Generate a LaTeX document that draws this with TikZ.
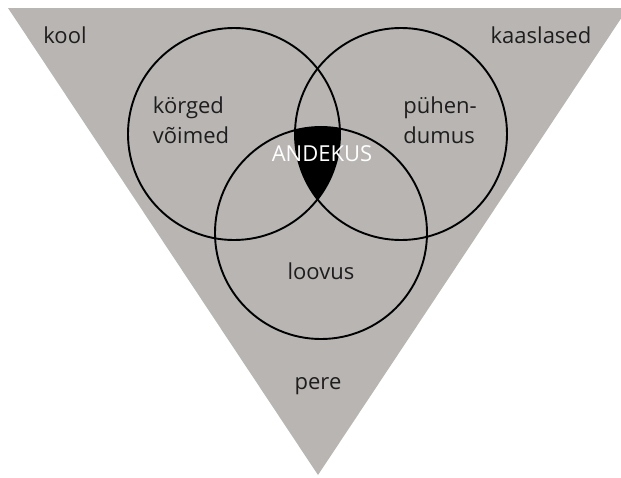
\documentclass[tikz,border=0pt]{standalone}
\usepackage{fontspec}
\setmainfont{Open Sans}
\definecolor{trigray}{RGB}{184,181,179}
\definecolor{inkgray}{RGB}{30,30,30}

\begin{document}
\begin{tikzpicture}[x=1pt, y=-1pt,
        ring/.style={circle, draw, line width=1.9pt, minimum size=212pt, inner sep=0pt},
        word/.style={font=\fontsize{22}{30}\selectfont, text=inkgray, align=left, inner sep=0pt},
        core/.style={font=\fontsize{22}{30}\selectfont, text=white, inner sep=0pt}
    ]
        \useasboundingbox (0,0) rectangle (621,477);
        \clip (0,0) rectangle (621,477);

        % Triangle
        \fill[trigray] (8,8) -- (628,8) -- (318,475) -- cycle;

        % Circles
        \node[ring] (abil) at (234,134) {};
        \node[ring] (puhend) at (401,134) {};
        \node[ring] (loov) at (321,233) {};

        % Common part
        \begin{scope}
            \clip (abil.center) circle (106);
            \clip (puhend.center) circle (106);
            \fill (loov.center) circle (106);
        \end{scope}

        % Labels
        \node[word] (kool) at (65,35) {kool};
        \node[word] (kaas) at (541,35) {kaaslased};
        \node[word] (korged) at (191,120) {körged\\võimed};
        \node[word] (puhen) at (440,120) {pühen-\\dumus};
        \node[core] (andekus) at (322,154) {ANDEKUS};
        \node[word] (loovus) at (321,271) {loovus};
        \node[word] (pere) at (318,386) {pere};
    \end{tikzpicture}
\end{document}
